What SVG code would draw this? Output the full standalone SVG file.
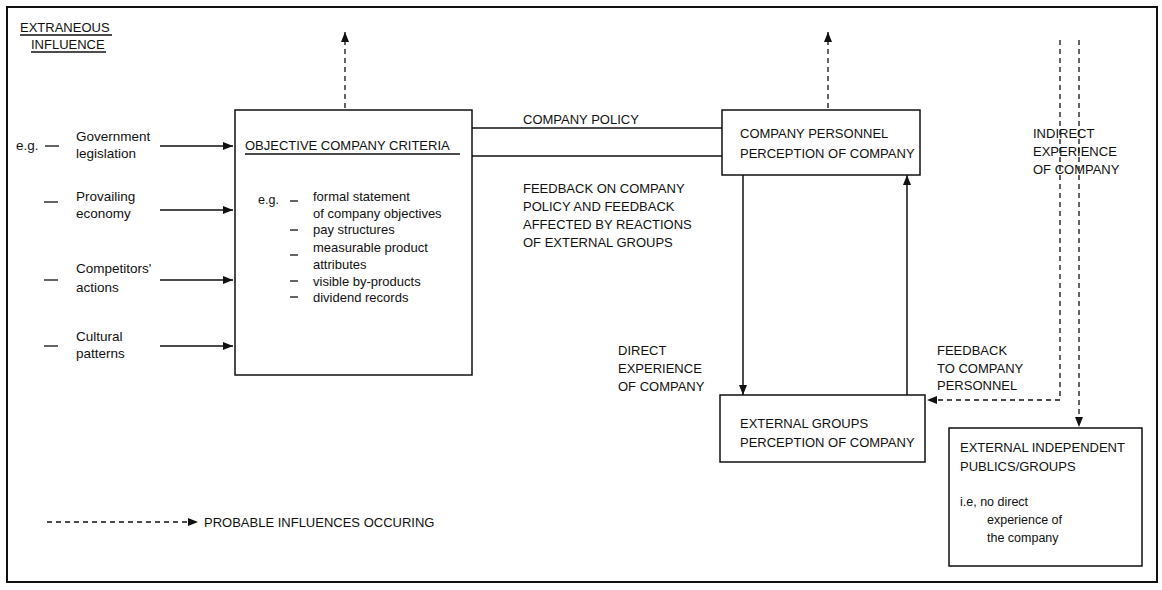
<svg xmlns="http://www.w3.org/2000/svg" width="1162" height="590" viewBox="0 0 1162 590">
<defs>
<style>
text{font-family:"Liberation Sans",Arial,sans-serif;font-size:13px;fill:#111}
.lc{font-size:12.5px}
.lt{font-size:13.5px}
.box{fill:#fff;stroke:#111;stroke-width:1.5}
.ln{fill:none;stroke:#111;stroke-width:1.5}
.dash{fill:none;stroke:#111;stroke-width:1.3;stroke-dasharray:5 4}
.ul{stroke:#111;stroke-width:1.3}
</style>
<marker id="ah" viewBox="0 0 10 8" refX="10" refY="4" markerWidth="10" markerHeight="8" markerUnits="userSpaceOnUse" orient="auto">
<path d="M0,0 L10,4 L0,8 z" fill="#111"/>
</marker>
</defs>
<rect x="0" y="0" width="1162" height="590" fill="#fff"/>
<rect x="7" y="7" width="1150" height="575" fill="none" stroke="#111" stroke-width="2"/>

<g id="extraneous-title">
<text x="20" y="32">EXTRANEOUS</text>
<line class="ul" x1="20" y1="35" x2="112" y2="35"/>
<text x="31" y="49">INFLUENCE</text>
<line class="ul" x1="31" y1="52" x2="106" y2="52"/>
</g>

<g id="influences">
<text class="lt" x="16" y="150">e.g.</text>
<line class="ul" x1="45" y1="146" x2="59" y2="146"/>
<text class="lt" x="76" y="141">Government</text>
<text class="lt" x="76" y="158">legislation</text>
<line class="ul" x1="44" y1="202" x2="58" y2="202"/>
<text class="lt" x="76" y="201">Provailing</text>
<text class="lt" x="76" y="218">economy</text>
<line class="ul" x1="44" y1="280" x2="58" y2="280"/>
<text class="lt" x="76" y="273">Competitors'</text>
<text class="lt" x="76" y="292">actions</text>
<line class="ul" x1="44" y1="346" x2="58" y2="346"/>
<text class="lt" x="76" y="341">Cultural</text>
<text class="lt" x="76" y="358">patterns</text>
</g>

<g id="objective-criteria">
<rect class="box" x="235" y="110" width="237" height="265"/>
<text x="245" y="150">OBJECTIVE COMPANY CRITERIA</text>
<line class="ul" x1="245" y1="154" x2="460" y2="154"/>
<text class="lc" x="258" y="204">e.g.</text>
<line class="ul" x1="290" y1="201" x2="298" y2="201"/>
<text x="313" y="201">formal statement</text>
<text x="313" y="218">of company objectives</text>
<line class="ul" x1="290" y1="230" x2="298" y2="230"/>
<text x="313" y="234">pay structures</text>
<line class="ul" x1="290" y1="255" x2="298" y2="255"/>
<text x="313" y="252">measurable product</text>
<text x="313" y="269">attributes</text>
<line class="ul" x1="290" y1="281" x2="298" y2="281"/>
<text x="313" y="286">visible by-products</text>
<line class="ul" x1="290" y1="297" x2="298" y2="297"/>
<text x="313" y="302">dividend records</text>
</g>

<g id="personnel-perception">
<rect class="box" x="722" y="110" width="198" height="65"/>
<text x="740" y="138">COMPANY PERSONNEL</text>
<text x="740" y="158">PERCEPTION OF COMPANY</text>
</g>

<g id="external-groups">
<rect class="box" x="720" y="395" width="205" height="67"/>
<text x="740" y="428">EXTERNAL GROUPS</text>
<text x="740" y="447">PERCEPTION OF COMPANY</text>
</g>

<g id="independent-publics">
<rect class="box" x="949" y="428" width="193" height="138"/>
<text x="960" y="452">EXTERNAL INDEPENDENT</text>
<text x="960" y="471">PUBLICS/GROUPS</text>
<text class="lc" x="960" y="506">i.e, no direct</text>
<text class="lc" x="987" y="524">experience of</text>
<text class="lc" x="987" y="542">the company</text>
</g>

<g id="connectors">
<line class="ln" x1="160" y1="146" x2="233" y2="146" marker-end="url(#ah)"/>
<line class="ln" x1="160" y1="210" x2="233" y2="210" marker-end="url(#ah)"/>
<line class="ln" x1="160" y1="280" x2="233" y2="280" marker-end="url(#ah)"/>
<line class="ln" x1="160" y1="346" x2="233" y2="346" marker-end="url(#ah)"/>
<line class="dash" x1="345" y1="108" x2="345" y2="32" marker-end="url(#ah)"/>
<line class="dash" x1="828" y1="108" x2="828" y2="32" marker-end="url(#ah)"/>
<line class="ln" x1="472" y1="128" x2="722" y2="128"/>
<line class="ln" x1="472" y1="156" x2="722" y2="156"/>
<text x="523" y="124">COMPANY POLICY</text>
<text x="523" y="193">FEEDBACK ON COMPANY</text>
<text x="523" y="211">POLICY AND FEEDBACK</text>
<text x="523" y="229">AFFECTED BY REACTIONS</text>
<text x="523" y="247">OF EXTERNAL GROUPS</text>
<line class="ln" x1="743" y1="175" x2="743" y2="395" marker-end="url(#ah)"/>
<line class="ln" x1="907" y1="395" x2="907" y2="175" marker-end="url(#ah)"/>
<text x="618" y="355">DIRECT</text>
<text x="618" y="373">EXPERIENCE</text>
<text x="618" y="391">OF COMPANY</text>
<text x="937" y="355">FEEDBACK</text>
<text x="937" y="373">TO COMPANY</text>
<text x="937" y="390">PERSONNEL</text>
<polyline class="dash" points="1060,40 1060,400 927,400" marker-end="url(#ah)"/>
<line class="dash" x1="1079" y1="40" x2="1079" y2="427" marker-end="url(#ah)"/>
<text x="1033" y="138">INDIRECT</text>
<text x="1033" y="156">EXPERIENCE</text>
<text x="1033" y="174">OF COMPANY</text>
</g>

<g id="legend">
<line class="dash" x1="47" y1="522" x2="198" y2="522" marker-end="url(#ah)"/>
<text x="204" y="527">PROBABLE INFLUENCES OCCURING</text>
</g>
</svg>
